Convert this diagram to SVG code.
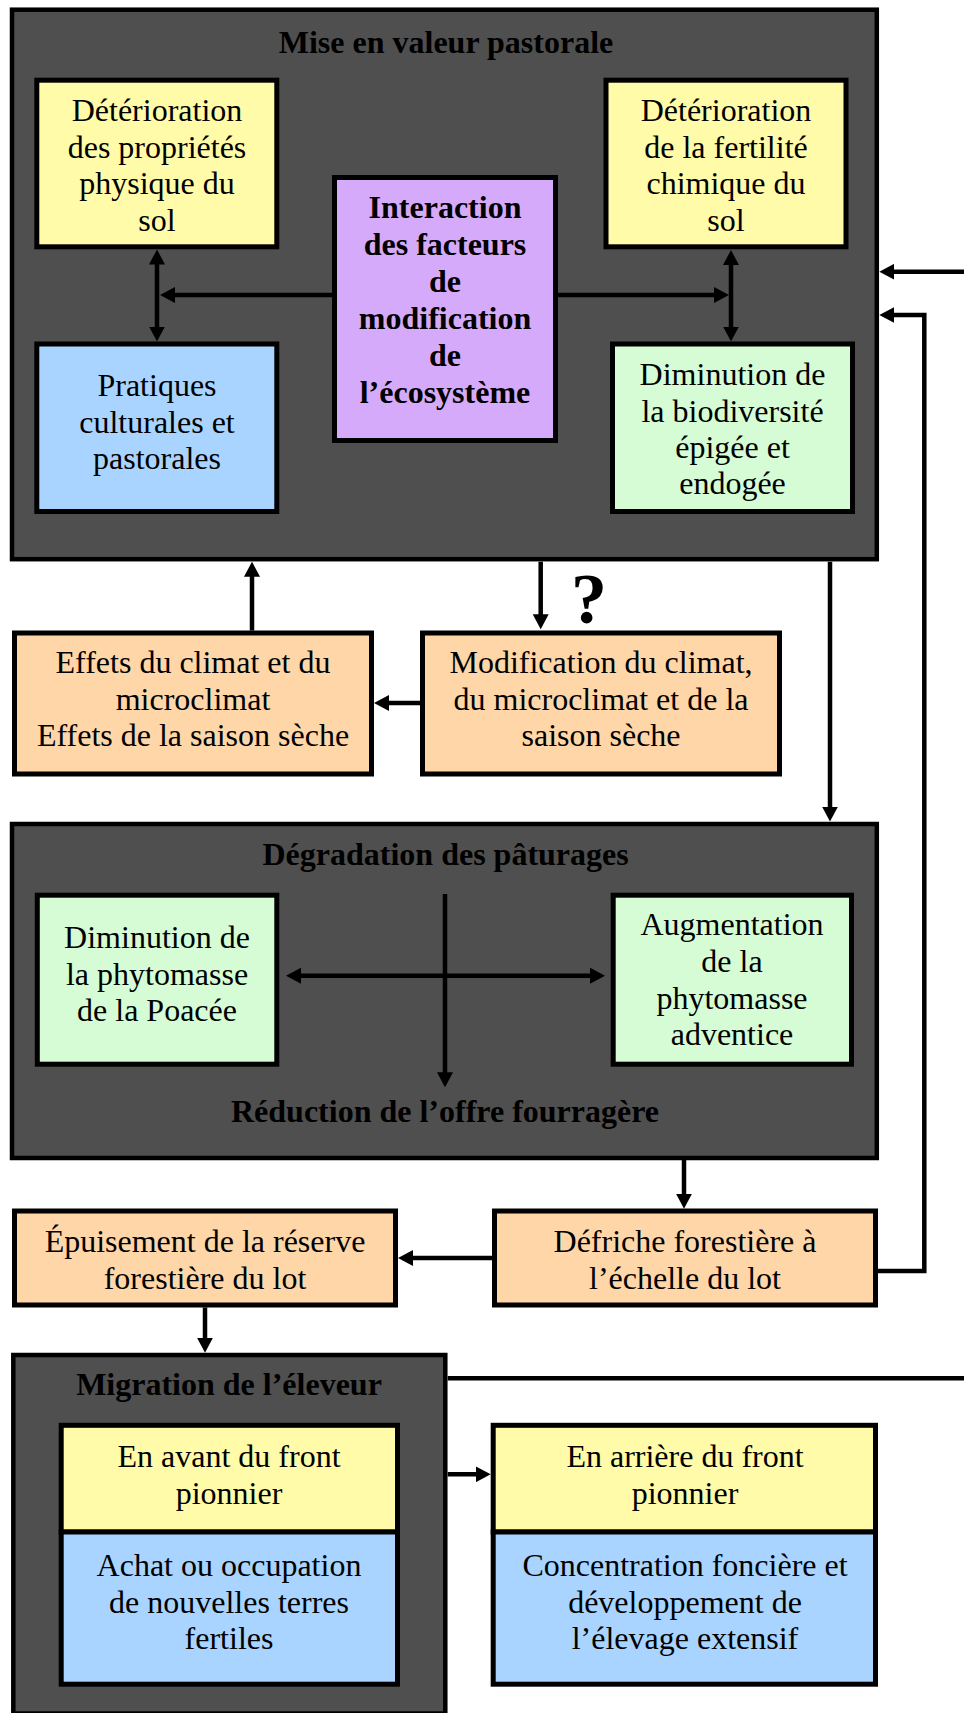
<svg xmlns="http://www.w3.org/2000/svg" width="964" height="1713" viewBox="0 0 964 1713">
<defs>
<marker id="ah" viewBox="0 0 15 16" refX="5" refY="8" markerWidth="15" markerHeight="16" markerUnits="userSpaceOnUse" orient="auto-start-reverse">
<path d="M0,0 L15,8 L0,16 Z" fill="#000"/>
</marker>
<style>
.grp{fill:#4f4f4f;stroke:#000;stroke-width:4.5}
.box{stroke:#000;stroke-width:5}
.y{fill:#fffba8}.b{fill:#a9d4ff}.g{fill:#d5fcd5}.p{fill:#d6aafb}.o{fill:#ffd6a8}
text{font-family:"Liberation Serif","Times New Roman",serif;font-size:32px;fill:#000;text-anchor:middle}
.t{font-weight:bold}
.c line,.c polyline{stroke:#000;stroke-width:4.5;fill:none}
.m{marker-end:url(#ah)}
.mm{marker-start:url(#ah);marker-end:url(#ah)}
</style>
</defs>
<rect width="964" height="1713" fill="#fff"/>

<g id="mise-en-valeur">
<rect class="grp" x="12" y="9.7" width="864.8" height="549.5"/>
<text class="t" x="446" y="53">Mise en valeur pastorale</text>
</g>
<g id="det-physique">
<rect class="box y" x="36.8" y="80.2" width="240" height="166.6"/>
<text><tspan x="157" y="121">Détérioration</tspan><tspan x="157" y="157.5">des propriétés</tspan><tspan x="157" y="194">physique du</tspan><tspan x="157" y="230.5">sol</tspan></text>
</g>
<g id="det-chimique">
<rect class="box y" x="606" y="80.2" width="240" height="166.6"/>
<text><tspan x="726" y="121">Détérioration</tspan><tspan x="726" y="157.5">de la fertilité</tspan><tspan x="726" y="194">chimique du</tspan><tspan x="726" y="230.5">sol</tspan></text>
</g>
<g id="interaction">
<rect class="box p" x="334.5" y="177.5" width="221" height="263"/>
<text class="t"><tspan x="445" y="218">Interaction</tspan><tspan x="445" y="255">des facteurs</tspan><tspan x="445" y="292">de</tspan><tspan x="445" y="329">modification</tspan><tspan x="445" y="366">de</tspan><tspan x="445" y="403">l’écosystème</tspan></text>
</g>
<g id="pratiques">
<rect class="box b" x="36.8" y="344" width="240" height="167.5"/>
<text><tspan x="157" y="396">Pratiques</tspan><tspan x="157" y="433">culturales et</tspan><tspan x="157" y="469">pastorales</tspan></text>
</g>
<g id="biodiversite">
<rect class="box g" x="612.5" y="344" width="240" height="167.5"/>
<text><tspan x="732.5" y="385">Diminution de</tspan><tspan x="732.5" y="422">la biodiversité</tspan><tspan x="732.5" y="458">épigée et</tspan><tspan x="732.5" y="494">endogée</tspan></text>
</g>

<g id="effets-climat">
<rect class="box o" x="14.5" y="633" width="357" height="141"/>
<text><tspan x="193" y="673">Effets du climat et du</tspan><tspan x="193" y="709.5">microclimat</tspan><tspan x="193" y="746">Effets de la saison sèche</tspan></text>
</g>
<g id="modif-climat">
<rect class="box o" x="422.5" y="633" width="357" height="141"/>
<text><tspan x="601" y="673">Modification du climat,</tspan><tspan x="601" y="709.5">du microclimat et de la</tspan><tspan x="601" y="746">saison sèche</tspan></text>
</g>
<g id="question">
<text class="t" x="589" y="623" style="font-size:72px">?</text>
</g>

<g id="degradation">
<rect class="grp" x="12" y="824" width="864.8" height="334"/>
<text class="t" x="445.6" y="864.5">Dégradation des pâturages</text>
<text class="t" x="445" y="1121.6">Réduction de l’offre fourragère</text>
</g>
<g id="phyto-poacee">
<rect class="box g" x="37.3" y="895.2" width="239.5" height="169"/>
<text><tspan x="157" y="948">Diminution de</tspan><tspan x="157" y="984.5">la phytomasse</tspan><tspan x="157" y="1021">de la Poacée</tspan></text>
</g>
<g id="phyto-adventice">
<rect class="box g" x="613.2" y="895.2" width="238.3" height="169"/>
<text><tspan x="732" y="935">Augmentation</tspan><tspan x="732" y="971.5">de la</tspan><tspan x="732" y="1008.5">phytomasse</tspan><tspan x="732" y="1045">adventice</tspan></text>
</g>

<g id="epuisement">
<rect class="box o" x="14.5" y="1211" width="381" height="94"/>
<text><tspan x="205" y="1252">Épuisement de la réserve</tspan><tspan x="205" y="1288.5">forestière du lot</tspan></text>
</g>
<g id="defriche">
<rect class="box o" x="494.5" y="1211" width="381" height="94"/>
<text><tspan x="685" y="1252">Défriche forestière à</tspan><tspan x="685" y="1288.5">l’échelle du lot</tspan></text>
</g>

<g id="migration">
<rect class="grp" x="13.3" y="1355" width="432" height="358.5"/>
<text class="t" x="229" y="1394.6">Migration de l’éleveur</text>
</g>
<g id="avant-front">
<rect class="box y" x="61.2" y="1425.3" width="336.3" height="106.7"/>
<text><tspan x="229" y="1467">En avant du front</tspan><tspan x="229" y="1504">pionnier</tspan></text>
</g>
<g id="achat">
<rect class="box b" x="61.2" y="1532" width="336.3" height="152.2"/>
<text><tspan x="229" y="1576">Achat ou occupation</tspan><tspan x="229" y="1613">de nouvelles terres</tspan><tspan x="229" y="1649">fertiles</tspan></text>
</g>
<g id="arriere-front">
<rect class="box y" x="493.2" y="1425.3" width="382.3" height="106.7"/>
<text><tspan x="685" y="1467">En arrière du front</tspan><tspan x="685" y="1504">pionnier</tspan></text>
</g>
<g id="concentration">
<rect class="box b" x="493.2" y="1532" width="382.3" height="152.2"/>
<text><tspan x="685" y="1576">Concentration foncière et</tspan><tspan x="685" y="1613">développement de</tspan><tspan x="685" y="1649">l’élevage extensif</tspan></text>
</g>

<g id="connectors" class="c">
<line class="mm" x1="157" y1="259.5" x2="157" y2="331.5"/>
<line class="m" x1="332" y1="295" x2="170" y2="295"/>
<line class="m" x1="558" y1="295" x2="719" y2="295"/>
<line class="mm" x1="731" y1="260" x2="731" y2="331.5"/>
<line class="m" x1="964" y1="271.7" x2="889.3" y2="271.7"/>
<polyline class="m" points="878,1271 924.3,1271 924.3,315 889.3,315"/>
<line class="m" x1="252" y1="630.6" x2="252" y2="571.7"/>
<line class="m" x1="540.7" y1="561.7" x2="540.7" y2="619.3"/>
<line class="m" x1="830" y1="561.7" x2="830" y2="811.6"/>
<line class="m" x1="420" y1="703" x2="384" y2="703"/>
<line class="m" x1="445" y1="894" x2="445" y2="1077.3"/>
<line class="mm" x1="296" y1="975.7" x2="595" y2="975.7"/>
<line class="m" x1="684" y1="1160" x2="684" y2="1198.7"/>
<line class="m" x1="492" y1="1258" x2="408" y2="1258"/>
<line class="m" x1="205" y1="1307.4" x2="205" y2="1342.7"/>
<line x1="447.7" y1="1378.3" x2="964" y2="1378.3"/>
<line class="m" x1="447.7" y1="1474.3" x2="480.7" y2="1474.3"/>
</g>
</svg>
